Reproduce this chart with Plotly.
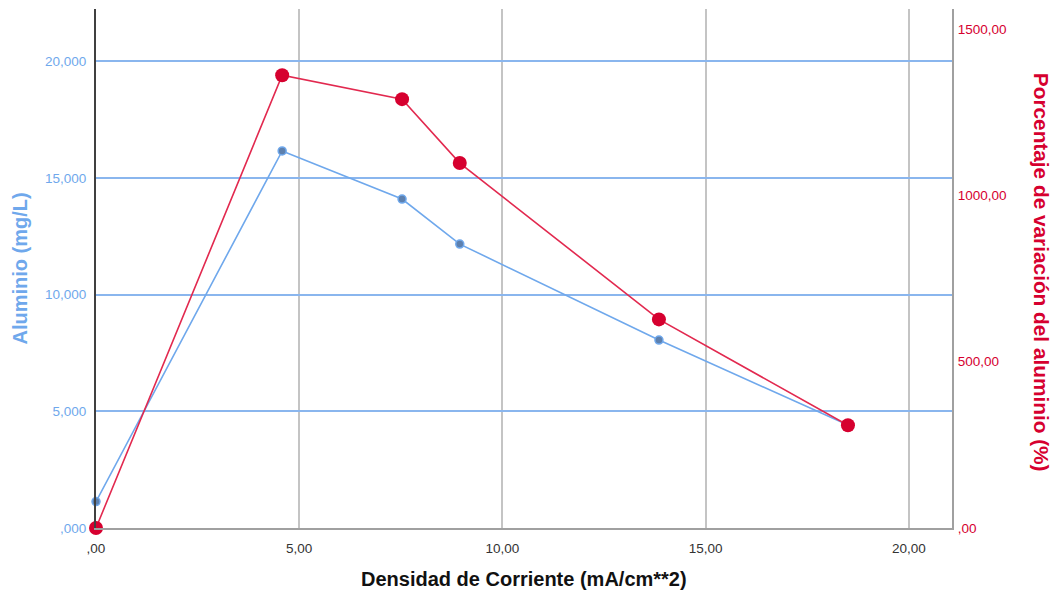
import plotly.graph_objects as go

# Data
densidad = [0.0, 4.58, 7.53, 8.95, 13.85, 18.50]
aluminio = [1.13, 16.15, 14.09, 12.16, 8.05, 4.41]
porcentaje = [0.0, 1361.0, 1289.0, 1097.0, 627.0, 309.0]

x_ticks = [0, 5, 10, 15, 20]
x_labels = [",00", "5,00", "10,00", "15,00", "20,00"]
yl_ticks = [0, 5, 10, 15, 20]
yl_labels = [",000", "5,000", "10,000", "15,000", "20,000"]
yr_ticks = [0, 500, 1000, 1500]
yr_labels = [",00", "500,00", "1000,00", "1500,00"]

BLUE = "#6FA8EC"
BLUE_GRID = "#8AB6EE"
RED = "#D6002F"
RED_LINE = "#E2294F"
FONT = "Liberation Sans, Arial, sans-serif"
TICK = 13.5
CLEAR = "rgba(0,0,0,0)"

fig = go.Figure()
fig.add_trace(go.Scatter(
    x=densidad, y=aluminio, mode="lines+markers", yaxis="y",
    line=dict(color=BLUE, width=1.6),
    marker=dict(size=8, color="#5D80AE", line=dict(color=BLUE, width=1.5)),
    cliponaxis=False, showlegend=False))
fig.add_trace(go.Scatter(
    x=densidad, y=porcentaje, mode="lines+markers", yaxis="y2",
    line=dict(color=RED_LINE, width=1.6),
    marker=dict(size=14, color=RED, line=dict(width=0)),
    cliponaxis=False, showlegend=False))

fig.update_layout(
    width=1055, height=597,
    margin=dict(l=96, r=103, t=9, b=69),
    paper_bgcolor="white", plot_bgcolor="white",
    font=dict(family=FONT, size=12),
    xaxis=dict(range=[0, 21.06], tickvals=x_ticks, ticktext=x_labels,
               showgrid=True, gridcolor="#C4C4C4", gridwidth=1.5,
               zeroline=False, showline=True, linecolor="#A0A0A0", linewidth=2,
               ticks="outside", ticklen=7, tickcolor=CLEAR,
               tickfont=dict(color="#333333", size=TICK, family=FONT)),
    yaxis=dict(range=[0, 22.23], tickvals=yl_ticks, ticktext=yl_labels,
               showgrid=True, gridcolor=BLUE_GRID, gridwidth=1.5,
               zeroline=False, showline=True, linecolor="#404040", linewidth=2,
               ticks="outside", ticklen=5, tickcolor=CLEAR,
               tickfont=dict(color=BLUE, size=TICK, family=FONT)),
    yaxis2=dict(range=[0, 1560], tickvals=yr_ticks, ticktext=yr_labels,
                overlaying="y", side="right", showgrid=False, zeroline=False,
                showline=True, linecolor="#A0A0A0", linewidth=2,
                ticks="outside", ticklen=1, tickcolor=CLEAR,
                tickfont=dict(color=RED, size=TICK, family=FONT)),
    annotations=[
        dict(text="Densidad de Corriente (mA/cm**2)", xref="paper", yref="paper",
             x=0.5, y=-0.098, yanchor="middle", xanchor="center", showarrow=False,
             font=dict(size=20, color="#111111", family=FONT, weight="bold")),
        dict(text="Aluminio (mg/L)", xref="paper", yref="paper",
             x=-0.0888, xanchor="center", y=0.5, yanchor="middle", textangle=-90,
             showarrow=False, font=dict(size=20, color=BLUE, family=FONT, weight="bold")),
        dict(text="Porcentaje de variación del aluminio (%)", xref="paper", yref="paper",
             x=1.1055, xanchor="center", y=0.493, yanchor="middle", textangle=90,
             showarrow=False, font=dict(size=20.8, color=RED, family=FONT, weight="bold")),
    ],
)

fig.write_html("out.html", config={"displayModeBar": False},
               post_script="document.body.style.margin='0px';")
